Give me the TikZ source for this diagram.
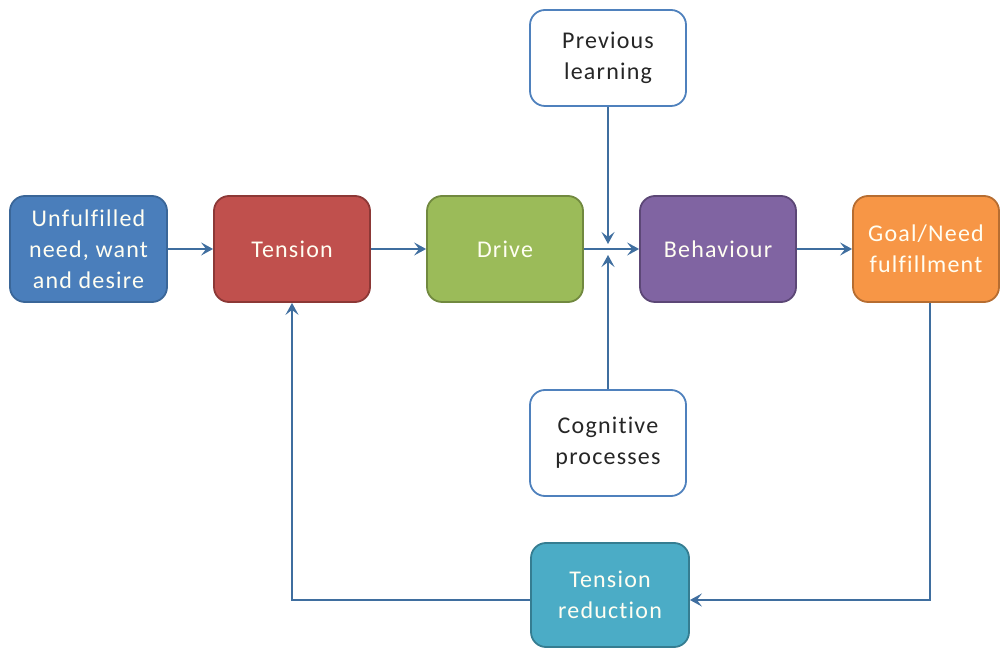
\documentclass[tikz,border=0pt]{standalone}
\usepackage{fontspec}
\setmainfont{Carlito}[LetterSpace=5,Ligatures={NoCommon}]
\usetikzlibrary{arrows.meta}
\definecolor{lineblue}{HTML}{3F6E9F}
\definecolor{cblue}{HTML}{4A7EBB}\definecolor{bblue}{HTML}{3A6698}
\definecolor{cred}{HTML}{C0504D}\definecolor{bred}{HTML}{8C3836}
\definecolor{cgreen}{HTML}{9BBB59}\definecolor{bgreen}{HTML}{71893F}
\definecolor{cpurple}{HTML}{8064A2}\definecolor{bpurple}{HTML}{5C4776}
\definecolor{corange}{HTML}{F79646}\definecolor{borange}{HTML}{B66D31}
\definecolor{cteal}{HTML}{4BACC6}\definecolor{bteal}{HTML}{357D91}
\definecolor{wborder}{HTML}{4F81BD}
\tikzset{
  box/.style={rounded corners=15pt, line width=1.8pt, minimum width=156pt, minimum height=106pt,
    align=center, inner sep=0pt, font=\fontsize{24}{31}\selectfont},
  cbox/.style args={#1/#2}{box, fill=#1, draw=#2, text=white!95!yellow},
  wbox/.style={box, fill=white, draw=wborder, text=black!85},
  conn/.style={draw=lineblue, line width=2.6pt, -{Stealth[length=12pt,width=13pt,inset=5pt]}}
}
\begin{document}
\begin{tikzpicture}[x=1pt,y=1pt]
\useasboundingbox (0,0) rectangle (1003,648);
\node[cbox=cblue/bblue, minimum width=157pt] (U) at (88.5,399) {Unfulfilled\\need, want\\and desire};
\node[cbox=cred/bred] (T) at (292,399) {Tension};
\node[cbox=cgreen/bgreen] (D) at (505,399) {Drive};
\node[cbox=cpurple/bpurple] (B) at (718,399) {Behaviour};
\node[cbox=corange/borange, minimum width=146pt] (G) at (926,399) {Goal/Need\\fulfillment};
\node[wbox, minimum height=96pt] (P) at (608,590) {Previous\\learning};
\node[wbox] (C) at (608,205) {Cognitive\\processes};
\node[cbox=cteal/bteal, minimum width=158pt, minimum height=104pt] (R) at (610,53) {Tension\\reduction};
\coordinate (Jt) at (608,404);
\coordinate (Jb) at (608,393);
\coordinate (GR) at (930,48);
\coordinate (TL) at (292,48);
\draw[conn] (U) -- (T);
\draw[conn] (T) -- (D);
\draw[conn] (D) -- (B);
\draw[conn] (B) -- (G);
\draw[conn] (P) -- (Jt);
\draw[conn] (C) -- (Jb);
\draw[conn] (G.south -| GR) -- (GR) -- (R.east |- GR);
\draw[conn] (R.west |- TL) -- (TL) -- (T.south);
\end{tikzpicture}
\end{document}
